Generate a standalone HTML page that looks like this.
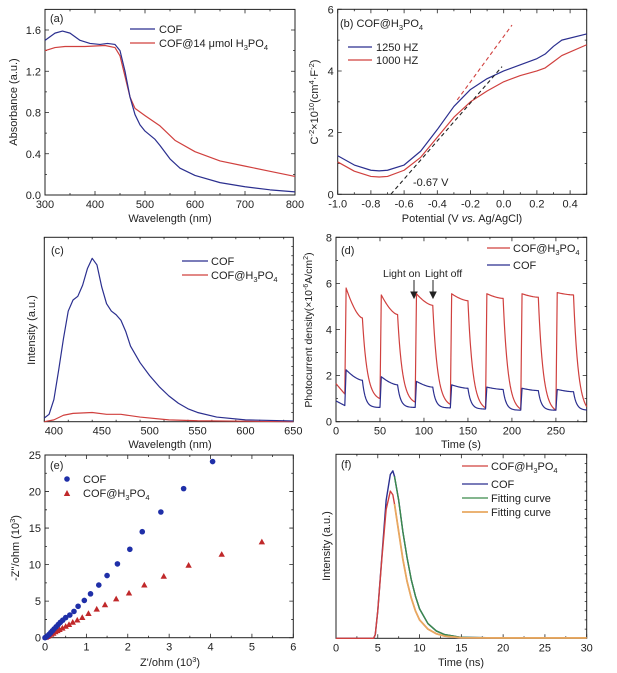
<!DOCTYPE html>
<html><head><meta charset="utf-8">
<style>
html,body{margin:0;padding:0;background:#fff;}
svg{display:block;font-family:"Liberation Sans",Arial,sans-serif;}
text{fill:#222;}
</style></head>
<body>
<svg id="fig" width="617" height="673" viewBox="0 0 617 673">
<g id="static" font-size="11">
 <text x="50" y="22">(a)</text>
 <text x="17" y="102" transform="rotate(-90 17 102)" text-anchor="middle">Absorbance (a.u.)</text>
 <text x="170" y="222" text-anchor="middle">Wavelength (nm)</text>
 <line x1="130" y1="29" x2="155" y2="29" stroke="#2b2f8f" stroke-width="1.3"/>
 <text x="159" y="33">COF</text>
 <line x1="130" y1="43" x2="155" y2="43" stroke="#d0403e" stroke-width="1.3"/>
 <text x="159" y="47">COF@14 μmol H<tspan font-size="7.5" dy="3">3</tspan><tspan dy="-3">PO</tspan><tspan font-size="7.5" dy="3">4</tspan></text>
 <text x="340" y="27">(b) COF@H<tspan font-size="7.5" dy="3">3</tspan><tspan dy="-3">PO</tspan><tspan font-size="7.5" dy="3">4</tspan></text>
 <line x1="348" y1="47" x2="372" y2="47" stroke="#2b2f8f" stroke-width="1.3"/>
 <text x="376" y="51">1250 HZ</text>
 <line x1="348" y1="60" x2="372" y2="60" stroke="#d0403e" stroke-width="1.3"/>
 <text x="376" y="64">1000 HZ</text>
 <text x="413" y="186">-0.67 V</text>
 <text x="318" y="102" transform="rotate(-90 318 102)" text-anchor="middle">C<tspan font-size="7.5" dy="-4">-2</tspan><tspan dy="4">×10</tspan><tspan font-size="7.5" dy="-4">10</tspan><tspan dy="4">(cm</tspan><tspan font-size="7.5" dy="-4">4</tspan><tspan dy="4">·F</tspan><tspan font-size="7.5" dy="-4">-2</tspan><tspan dy="4">)</tspan></text>
 <text x="462" y="222" text-anchor="middle">Potential (V <tspan font-style="italic">vs.</tspan> Ag/AgCl)</text>
 <text x="51" y="254">(c)</text>
 <line x1="182" y1="261" x2="208" y2="261" stroke="#2b2f8f" stroke-width="1.3"/>
 <text x="211" y="265">COF</text>
 <line x1="182" y1="275" x2="208" y2="275" stroke="#d0403e" stroke-width="1.3"/>
 <text x="211" y="279">COF@H<tspan font-size="7.5" dy="3">3</tspan><tspan dy="-3">PO</tspan><tspan font-size="7.5" dy="3">4</tspan></text>
 <text x="35" y="330" transform="rotate(-90 35 330)" text-anchor="middle">Intensity (a.u.)</text>
 <text x="170" y="448" text-anchor="middle">Wavelength (nm)</text>
 <text x="341" y="254">(d)</text>
 <line x1="487" y1="248" x2="510" y2="248" stroke="#d0403e" stroke-width="1.3"/>
 <text x="513" y="252">COF@H<tspan font-size="7.5" dy="3">3</tspan><tspan dy="-3">PO</tspan><tspan font-size="7.5" dy="3">4</tspan></text>
 <line x1="487" y1="265" x2="510" y2="265" stroke="#2b2f8f" stroke-width="1.3"/>
 <text x="513" y="269">COF</text>
 <text x="383" y="277" font-size="10.5">Light on</text>
 <text x="425" y="277" font-size="10.5">Light off</text>
 <g stroke="#222" stroke-width="1" fill="#222">
  <line x1="414" y1="280" x2="414" y2="293"/><polygon points="411,292 417,292 414,298"/>
  <line x1="433" y1="280" x2="433" y2="293"/><polygon points="430,292 436,292 433,298"/>
 </g>
 <text x="312" y="330" transform="rotate(-90 312 330)" text-anchor="middle" font-size="10.5">Photocurrent density(×10<tspan font-size="7" dy="-4">-6</tspan><tspan dy="4">A/cm</tspan><tspan font-size="7" dy="-4">2</tspan><tspan dy="4">)</tspan></text>
 <text x="461" y="448" text-anchor="middle">Time (s)</text>
 <text x="50" y="469">(e)</text>
 <circle cx="67" cy="479" r="2.8" fill="#1f2fa8"/>
 <text x="83" y="483">COF</text>
 <polygon points="67,490 63.8,496 70.2,496" fill="#c0282a"/>
 <text x="83" y="497">COF@H<tspan font-size="7.5" dy="3">3</tspan><tspan dy="-3">PO</tspan><tspan font-size="7.5" dy="3">4</tspan></text>
 <text x="19" y="548" transform="rotate(-90 19 548)" text-anchor="middle">-Z''/ohm (10<tspan font-size="7.5" dy="-4">3</tspan><tspan dy="4">)</tspan></text>
 <text x="170" y="666" text-anchor="middle">Z'/ohm (10<tspan font-size="7.5" dy="-4">3</tspan><tspan dy="4">)</tspan></text>
 <text x="341" y="468">(f)</text>
 <line x1="462" y1="466" x2="488" y2="466" stroke="#d0403e" stroke-width="1.3"/>
 <text x="491" y="470">COF@H<tspan font-size="7.5" dy="3">3</tspan><tspan dy="-3">PO</tspan><tspan font-size="7.5" dy="3">4</tspan></text>
 <line x1="462" y1="484" x2="488" y2="484" stroke="#2b2f8f" stroke-width="1.3"/>
 <text x="491" y="488">COF</text>
 <line x1="462" y1="498" x2="488" y2="498" stroke="#3a8a4a" stroke-width="1.3"/>
 <text x="491" y="502">Fitting curve</text>
 <line x1="462" y1="512" x2="488" y2="512" stroke="#e8a860" stroke-width="1.8"/>
 <text x="491" y="516">Fitting curve</text>
 <text x="330" y="546" transform="rotate(-90 330 546)" text-anchor="middle">Intensity (a.u.)</text>
 <text x="461" y="666" text-anchor="middle">Time (ns)</text>
</g>
</svg>
<script>
const aCofX=[300,320,335,350,370,390,410,425,440,450,460,470,480,490,500,520,530,550,570,600,650,700,750,800];
const aCofY=[1.50,1.57,1.59,1.57,1.50,1.47,1.46,1.47,1.46,1.40,1.20,0.95,0.78,0.68,0.62,0.54,0.48,0.35,0.26,0.19,0.12,0.08,0.05,0.03];
const aAcidX=[300,320,340,380,420,440,450,460,470,480,500,530,560,600,650,700,750,800];
const aAcidY=[1.40,1.43,1.44,1.44,1.45,1.43,1.35,1.15,0.95,0.84,0.77,0.67,0.53,0.42,0.33,0.28,0.23,0.18];
const bX=[-1.0,-0.9,-0.8,-0.75,-0.7,-0.6,-0.5,-0.4,-0.3,-0.2,-0.1,0.0,0.1,0.2,0.25,0.3,0.35,0.5];
const b1250=[1.25,0.95,0.78,0.76,0.78,0.95,1.4,2.1,2.85,3.4,3.75,4.0,4.2,4.4,4.55,4.8,5.0,5.2];
const b1000=[1.05,0.75,0.58,0.56,0.58,0.78,1.2,1.85,2.5,3.0,3.35,3.65,3.85,4.0,4.1,4.3,4.5,4.85];
const bFitBlackX=[-0.68,-0.01];
const bFitBlackY=[0.0,4.14];
const bFitRedX=[-0.28,0.05];
const bFitRedY=[3.06,5.49];
const cCofX=[390,395,400,405,410,415,420,425,430,435,440,445,450,455,460,465,470,475,480,490,500,510,520,530,540,550,570,600,650];
const cCofY=[0.02,0.04,0.12,0.28,0.45,0.6,0.66,0.68,0.74,0.83,0.886,0.85,0.73,0.64,0.6,0.58,0.55,0.49,0.41,0.32,0.25,0.19,0.14,0.1,0.07,0.05,0.025,0.01,0.004];
const cAcidX=[390,400,410,420,440,455,470,490,520,550,650];
const cAcidY=[0.0,0.01,0.035,0.045,0.05,0.04,0.04,0.025,0.01,0.005,0.0];
const dOnTimes=[10,50,90,130,170,210,250];
const dRedStart=1.65, dRedDark0=1.2;
const dRedPeak=[5.8,5.5,5.55,5.55,5.55,5.55,5.6];
const dRedEnd=[4.5,4.65,5.05,5.25,5.35,5.4,5.5];
const dRedDark=[1.0,0.85,0.75,0.6,0.55,0.5,0.45];
const dBlueStart=0.9, dBlueDark0=0.7;
const dBluePeak=[2.25,1.95,1.75,1.6,1.5,1.45,1.4];
const dBlueEnd=[1.8,1.6,1.5,1.45,1.4,1.35,1.3];
const dBlueDark=[0.62,0.62,0.6,0.55,0.5,0.5,0.5];
const eCofX=[0.0,0.03,0.06,0.1,0.14,0.18,0.22,0.27,0.32,0.37,0.43,0.5,0.6,0.7,0.8,0.95,1.1,1.3,1.5,1.75,2.05,2.35,2.8,3.35,4.05];
const eCofY=[0.0,0.1,0.25,0.45,0.7,0.95,1.2,1.5,1.8,2.1,2.4,2.75,3.1,3.6,4.3,5.1,6.0,7.2,8.5,10.1,12.1,14.5,17.2,20.4,24.1];
const eAcidX=[0.02,0.06,0.1,0.15,0.2,0.25,0.3,0.35,0.42,0.5,0.58,0.67,0.78,0.9,1.05,1.25,1.45,1.72,2.03,2.4,2.87,3.47,4.27,5.24];
const eAcidY=[0.05,0.15,0.3,0.45,0.6,0.8,0.95,1.1,1.3,1.55,1.8,2.1,2.4,2.75,3.3,3.9,4.5,5.3,6.1,7.2,8.4,9.9,11.4,13.1];
const fX=[0,4.5,4.7,5,5.5,6,6.5,6.8,7,7.5,8,8.5,9,9.5,10,11,12,13,15,20,30];
const fCof=[0,0,0.02,0.15,0.45,0.75,0.89,0.91,0.88,0.75,0.58,0.44,0.32,0.23,0.16,0.08,0.04,0.02,0.005,0.002,0.002];
const fAcid=[0,0,0.02,0.15,0.44,0.7,0.8,0.78,0.73,0.58,0.43,0.31,0.22,0.15,0.1,0.05,0.025,0.012,0.003,0.002,0.002];
const fFitStart=7;

const svg=document.getElementById('fig');
const NS='http://www.w3.org/2000/svg';
function mk(tag,attrs,parent){const e=document.createElementNS(NS,tag);for(const k in attrs)e.setAttribute(k,attrs[k]);(parent||svg).appendChild(e);return e;}
function scale(d0,d1,r0,r1){return v=>r0+(v-d0)/(d1-d0)*(r1-r0);}

function axes(P){
  const g=mk('g',{});
  
  
  const fr=mk('rect',{x:P.l,y:P.t,width:P.r-P.l,height:P.b-P.t,fill:'none',stroke:'#222','stroke-width':1},g);
  
  
  let d='';
  if(P.xt){for(let v=P.xmin;v<=P.xmax+1e-9;v+=P.xminor){const x=P.x(v);const maj=Math.abs(Math.round((v-P.xt[0])/P.xstep)*P.xstep+P.xt[0]-v)<1e-6;const L=maj?4:2;d+=`M${x},${P.b}v${-L}M${x},${P.t}v${L}`;}}
  if(P.yt){for(let v=P.ymin;v<=P.ymax+1e-9;v+=P.yminor){const y=P.y(v);const maj=Math.abs(Math.round((v-P.yt[0])/P.ystep)*P.ystep+P.yt[0]-v)<1e-6;const L=maj?4:2;d+=`M${P.l},${y}h${L}M${P.r},${y}h${-L}`;}}
  else{for(let i=1;i<20;i++){const y=P.t+(P.b-P.t)*i/20;d+=`M${P.r},${y}h-2`;}}
  const tk=mk('path',{d:d,stroke:'#222','stroke-width':0.8,fill:'none'},g);
  
  
  (P.xt||[]).forEach((v,i)=>{const t=mk('text',{x:P.x(v),y:P.b+13,'text-anchor':'middle','font-size':11},g);t.textContent=P.xl[i];
    
    });
  (P.yt||[]).forEach((v,i)=>{const t=mk('text',{x:P.l-4,y:P.y(v)+4,'text-anchor':'end','font-size':11},g);t.textContent=P.yl[i];
    
    });
}
function line(P,xs,ys,color,name,w){
  const pts=xs.map((v,i)=>P.x(v).toFixed(2)+','+P.y(ys[i]).toFixed(2)).join(' ');
  const e=mk('polyline',{points:pts,fill:'none',stroke:color,'stroke-width':w||1.2,'stroke-linejoin':'round'});
  
  
  return e;
}
function mkPanel(o){o.x=scale(o.xmin,o.xmax,o.l,o.r);o.y=scale(o.ymin,o.ymax,o.b,o.t);return o;}
const BLUE='#2b2f8f',RED='#d0403e';

const A=mkPanel({name:'a',l:45,r:295,t:9.4,b:195,xmin:300,xmax:800,ymin:0,ymax:1.8,xt:[300,400,500,600,700,800],xl:['300','400','500','600','700','800'],xstep:100,xminor:50,yt:[0,0.4,0.8,1.2,1.6],yl:['0.0','0.4','0.8','1.2','1.6'],ystep:0.4,yminor:0.2});
axes(A);
line(A,aAcidX,aAcidY,RED,'a-series-cof-h3po4');
line(A,aCofX,aCofY,BLUE,'a-series-cof');

const B=mkPanel({name:'b',l:337.7,r:586.7,t:9.3,b:194.3,xmin:-1.0,xmax:0.5,ymin:0,ymax:6,xt:[-1.0,-0.8,-0.6,-0.4,-0.2,0,0.2,0.4],xl:['-1.0','-0.8','-0.6','-0.4','-0.2','0.0','0.2','0.4'],xstep:0.2,xminor:0.1,yt:[0,2,4,6],yl:['0','2','4','6'],ystep:2,yminor:1});
axes(B);
line(B,bX,b1000,RED,'b-series-1000hz');
line(B,bX,b1250,BLUE,'b-series-1250hz');
const fb=line(B,bFitBlackX,bFitBlackY,'#222','b-fit-line-black',1.1);fb.setAttribute('stroke-dasharray','4,3');
const fr2=line(B,bFitRedX,bFitRedY,RED,'b-fit-line-red',1.1);fr2.setAttribute('stroke-dasharray','4,3');

const C=mkPanel({name:'c',l:44.3,r:293.3,t:237.3,b:421.7,xmin:390,xmax:650,ymin:0,ymax:1,xt:[400,450,500,550,600,650],xl:['400','450','500','550','600','650'],xstep:50,xminor:25});
axes(C);
line(C,cAcidX,cAcidY,RED,'c-series-cof-h3po4');
line(C,cCofX,cCofY,BLUE,'c-series-cof');

const D=mkPanel({name:'d',l:336,r:586.7,t:237.3,b:421.7,xmin:0,xmax:285,ymin:0,ymax:8,xt:[0,50,100,150,200,250],xl:['0','50','100','150','200','250'],xstep:50,xminor:25,yt:[0,2,4,6,8],yl:['0','2','4','6','8'],ystep:2,yminor:1});
axes(D);
function photo(start,dark0,peak,end,dark,tau){
  const xs=[],ys=[];
  for(let t=0;t<=10;t+=0.5){xs.push(t);ys.push(start+(dark0-start)*t/10);}
  let prevDark=dark0;
  dOnTimes.forEach((on,i)=>{
    xs.push(on);ys.push(prevDark);
    for(let s=0.3;s<=1.5;s+=0.3){xs.push(on+s);ys.push(prevDark+(peak[i]-prevDark)*Math.min(1,s/1.5));}
    for(let s=2;s<=20;s+=1){const u=(s-1.5)/18.5;xs.push(on+s);ys.push(end[i]+(peak[i]-end[i])*Math.pow(1-u,1.6));}
    const off=on+20;const lim=Math.min(20,285-off);
    const e0=Math.exp(-20/tau);
    for(let s=0.2;s<=lim+1e-9;s+=(s<3?0.2:1)){const v=dark[i]+(end[i]-dark[i])*(Math.exp(-s/tau)-e0)/(1-e0);xs.push(off+s);ys.push(v);}
    prevDark=dark[i];
  });
  return [xs,ys];
}
const dr=photo(dRedStart,dRedDark0,dRedPeak,dRedEnd,dRedDark,5.5);
line(D,dr[0],dr[1],RED,'d-series-cof-h3po4');
const db=photo(dBlueStart,dBlueDark0,dBluePeak,dBlueEnd,dBlueDark,3.5);
line(D,db[0],db[1],BLUE,'d-series-cof');

const E=mkPanel({name:'e',l:45,r:293.3,t:455,b:637.7,xmin:0,xmax:6,ymin:0,ymax:25,xt:[0,1,2,3,4,5,6],xl:['0','1','2','3','4','5','6'],xstep:1,xminor:0.5,yt:[0,5,10,15,20,25],yl:['0','5','10','15','20','25'],ystep:5,yminor:2.5});
axes(E);
eAcidX.forEach((v,i)=>{const x=E.x(v),y=E.y(eAcidY[i]);
  const p=mk('polygon',{points:`${x},${y-3.3} ${x-3.2},${y+2.4} ${x+3.2},${y+2.4}`,fill:'#c0282a'});
  
  });
eCofX.forEach((v,i)=>{
  const c=mk('circle',{cx:E.x(v),cy:E.y(eCofY[i]),r:2.8,fill:'#1f2fa8'});
  
  });

const F=mkPanel({name:'f',l:336,r:586.7,t:454.3,b:638.3,xmin:0,xmax:30,ymin:0,ymax:1,xt:[0,5,10,15,20,25,30],xl:['0','5','10','15','20','25','30'],xstep:5,xminor:2.5});
axes(F);
line(F,fX,fCof,BLUE,'f-series-cof',1.4);
line(F,fX,fAcid,RED,'f-series-cof-h3po4',1.4);
const fi=fX.findIndex(v=>v>=fFitStart);
line(F,fX.slice(fi),fCof.slice(fi),'#3a8a4a','f-fit-cof',1.4);
line(F,fX.slice(fi),fAcid.slice(fi),'#e8a860','f-fit-cof-h3po4',1.8);
</script>
</body></html>
